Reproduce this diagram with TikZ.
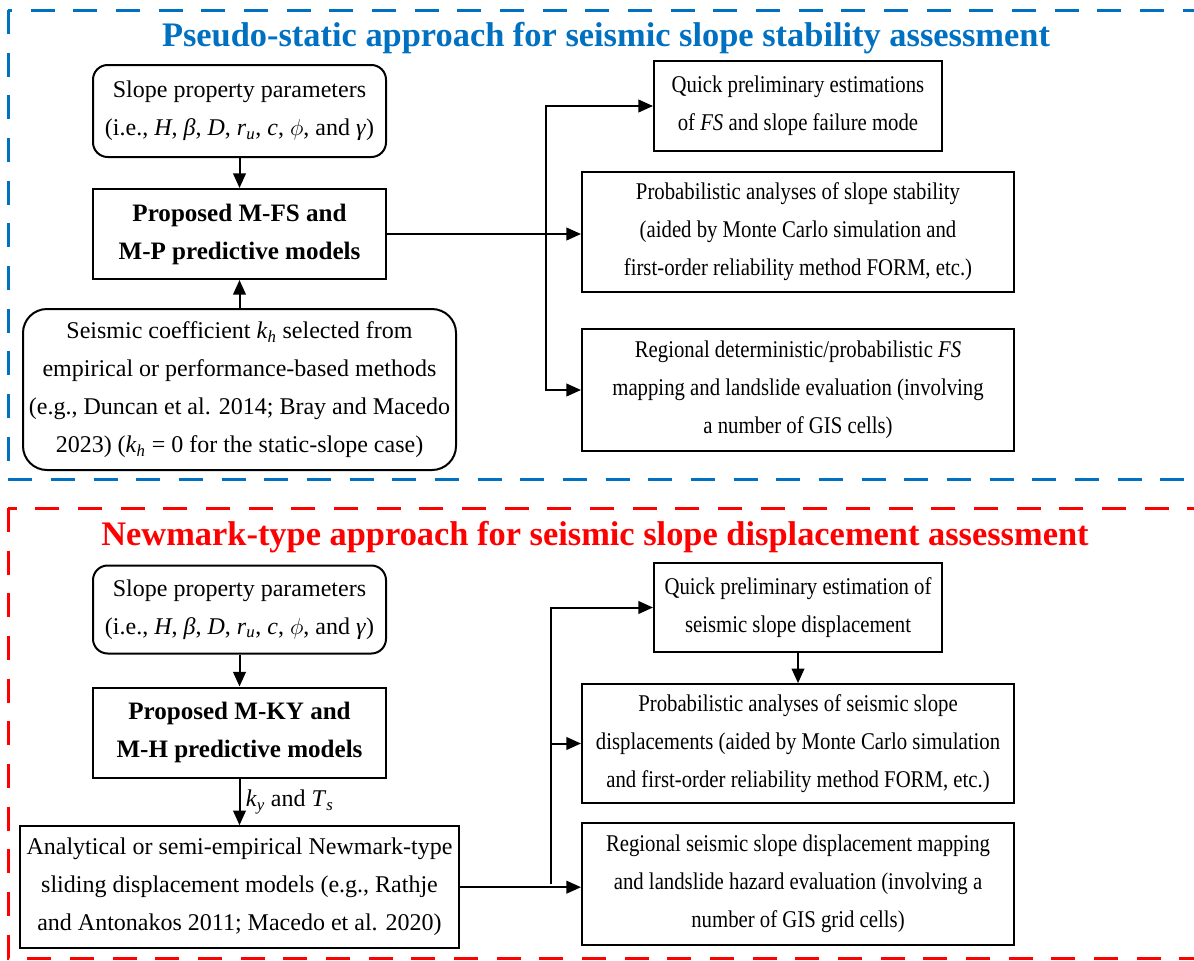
\documentclass[tikz,border=0pt]{standalone}
\usepackage{fontspec}
\setmainfont{Liberation Serif}
\newfontfamily\narrowserif[FakeStretch=0.865]{Liberation Serif}
\usetikzlibrary{positioning,arrows.meta}
\definecolor{titleblue}{RGB}{0,112,192}
\definecolor{titlered}{RGB}{255,0,0}
\newcommand{\slopepar}{(i.e., \textit{H}, \textit{β}, \textit{D}, \textit{r}\textsubscript{\textit{u}}, \textit{c}, $\phi$, and \textit{γ})}

\begin{document}
\begin{tikzpicture}[x=0.75pt,y=-0.75pt,
	every node/.style={font=\fontsize{18}{28.5}\selectfont, align=center, inner sep=2pt},
	box/.style={draw, line width=1.5pt},
	rbox/.style={box, rounded corners=11pt},
	outbox/.style={box, font=\fontsize{18}{28.5}\selectfont\narrowserif},
	model/.style={box, font=\fontsize{18.8}{28.5}\selectfont\bfseries},
	frame/.style={line width=2.25pt, dash pattern=on 18pt off 14pt},
	title/.style={font=\fontsize{25.8}{30}\selectfont\bfseries},
	arr/.style={line width=1.5pt, -{Triangle[length=11pt,width=9.5pt]}}]
	\useasboundingbox (0,0) rectangle (1194,960);

	% pseudo-static part
	\draw[frame, titleblue] (8,10) rectangle (1205,479);
	\node[title, text=titleblue] (T1) at (606,38) {Pseudo-static approach for seismic slope stability assessment};

	\node[rbox, minimum width=219.75pt, minimum height=69pt] (SP1) at (239.5,111) {Slope property parameters\\ \slopepar};
	\node[model, below=22.5pt of SP1, minimum width=219.75pt, minimum height=67.5pt] (MFS) {Proposed M-FS and\\ M-P predictive models};
	\node[rbox, rounded corners=18pt, below=21pt of MFS, minimum width=324.75pt, minimum height=120.75pt] (KH)
		{Seismic coefficient \textit{k}\textsubscript{\textit{h}} selected from\\ empirical or performance-based methods\\
		(e.g., Duncan et al. 2014; Bray and Macedo\\ 2023) (\textit{k}\textsubscript{\textit{h}} = 0 for the static-slope case)};

	\node[outbox, minimum width=216pt, minimum height=67.5pt] (Q1) at (798,106) {Quick preliminary estimations\\ of \textit{FS} and slope failure mode};
	\node[outbox, minimum width=324pt, minimum height=90pt] (P1) at (798,231.5) {Probabilistic analyses of slope stability\\
		(aided by Monte Carlo simulation and\\ first-order reliability method FORM, etc.)};
	\node[outbox, minimum width=324pt, minimum height=91.5pt] (R1) at (798,390) {Regional deterministic/probabilistic \textit{FS}\\
		mapping and landslide evaluation (involving\\ a number of GIS cells)};

	\coordinate (B1) at (546,232);
	\draw[arr] (SP1) -- (MFS);
	\draw[arr] (KH) -- (MFS);
	\draw[arr] (MFS.east) -- (MFS.east -| P1.west);
	\draw[arr] (B1) |- (Q1.west);
	\draw[arr] (B1) |- (R1.west);

	% Newmark-type part
	\draw[frame, titlered] (8,508) rectangle (1205,958);
	\node[title, text=titlered] (T2) at (595,537) {Newmark-type approach for seismic slope displacement assessment};

	\node[rbox, minimum width=219.75pt, minimum height=66pt] (SP2) at (239.5,609.5) {Slope property parameters\\ \slopepar};
	\node[model, below=24pt of SP2, minimum width=219.75pt, minimum height=67.5pt] (MKY) {Proposed M-KY and\\ M-H predictive models};
	\node[box, below=35pt of MKY, minimum width=329.25pt, minimum height=91.5pt] (NM)
		{Analytical or semi-empirical Newmark-type\\ sliding displacement models (e.g., Rathje\\ and Antonakos 2011; Macedo et al. 2020)};

	\node[outbox, minimum width=216pt, minimum height=67pt] (Q2) at (798,607.5) {Quick preliminary estimation of\\ seismic slope displacement};
	\node[outbox, minimum width=324pt, minimum height=89pt] (P2) at (798,743.5) {Probabilistic analyses of seismic slope\\
		displacements (aided by Monte Carlo simulation\\ and first-order reliability method FORM, etc.)};
	\node[outbox, minimum width=324pt, minimum height=91.5pt] (R2) at (798,884) {Regional seismic slope displacement mapping\\
		and landslide hazard evaluation (involving a\\ number of GIS grid cells)};

	\coordinate (B2) at (551,884);
	\draw[arr] (SP2) -- (MKY);
	\draw[arr] (MKY) -- node[right, inner sep=4pt] {\textit{k}\textsubscript{\textit{y}} and \textit{T}\textsubscript{\textit{s}}} (NM);
	\draw[arr] (NM.east) -- (NM.east -| R2.west);
	\draw[arr] (B2) |- (Q2.west);
	\draw[arr] (B2) |- (P2.west);
	\draw[arr] (Q2) -- (P2);
\end{tikzpicture}
\end{document}
